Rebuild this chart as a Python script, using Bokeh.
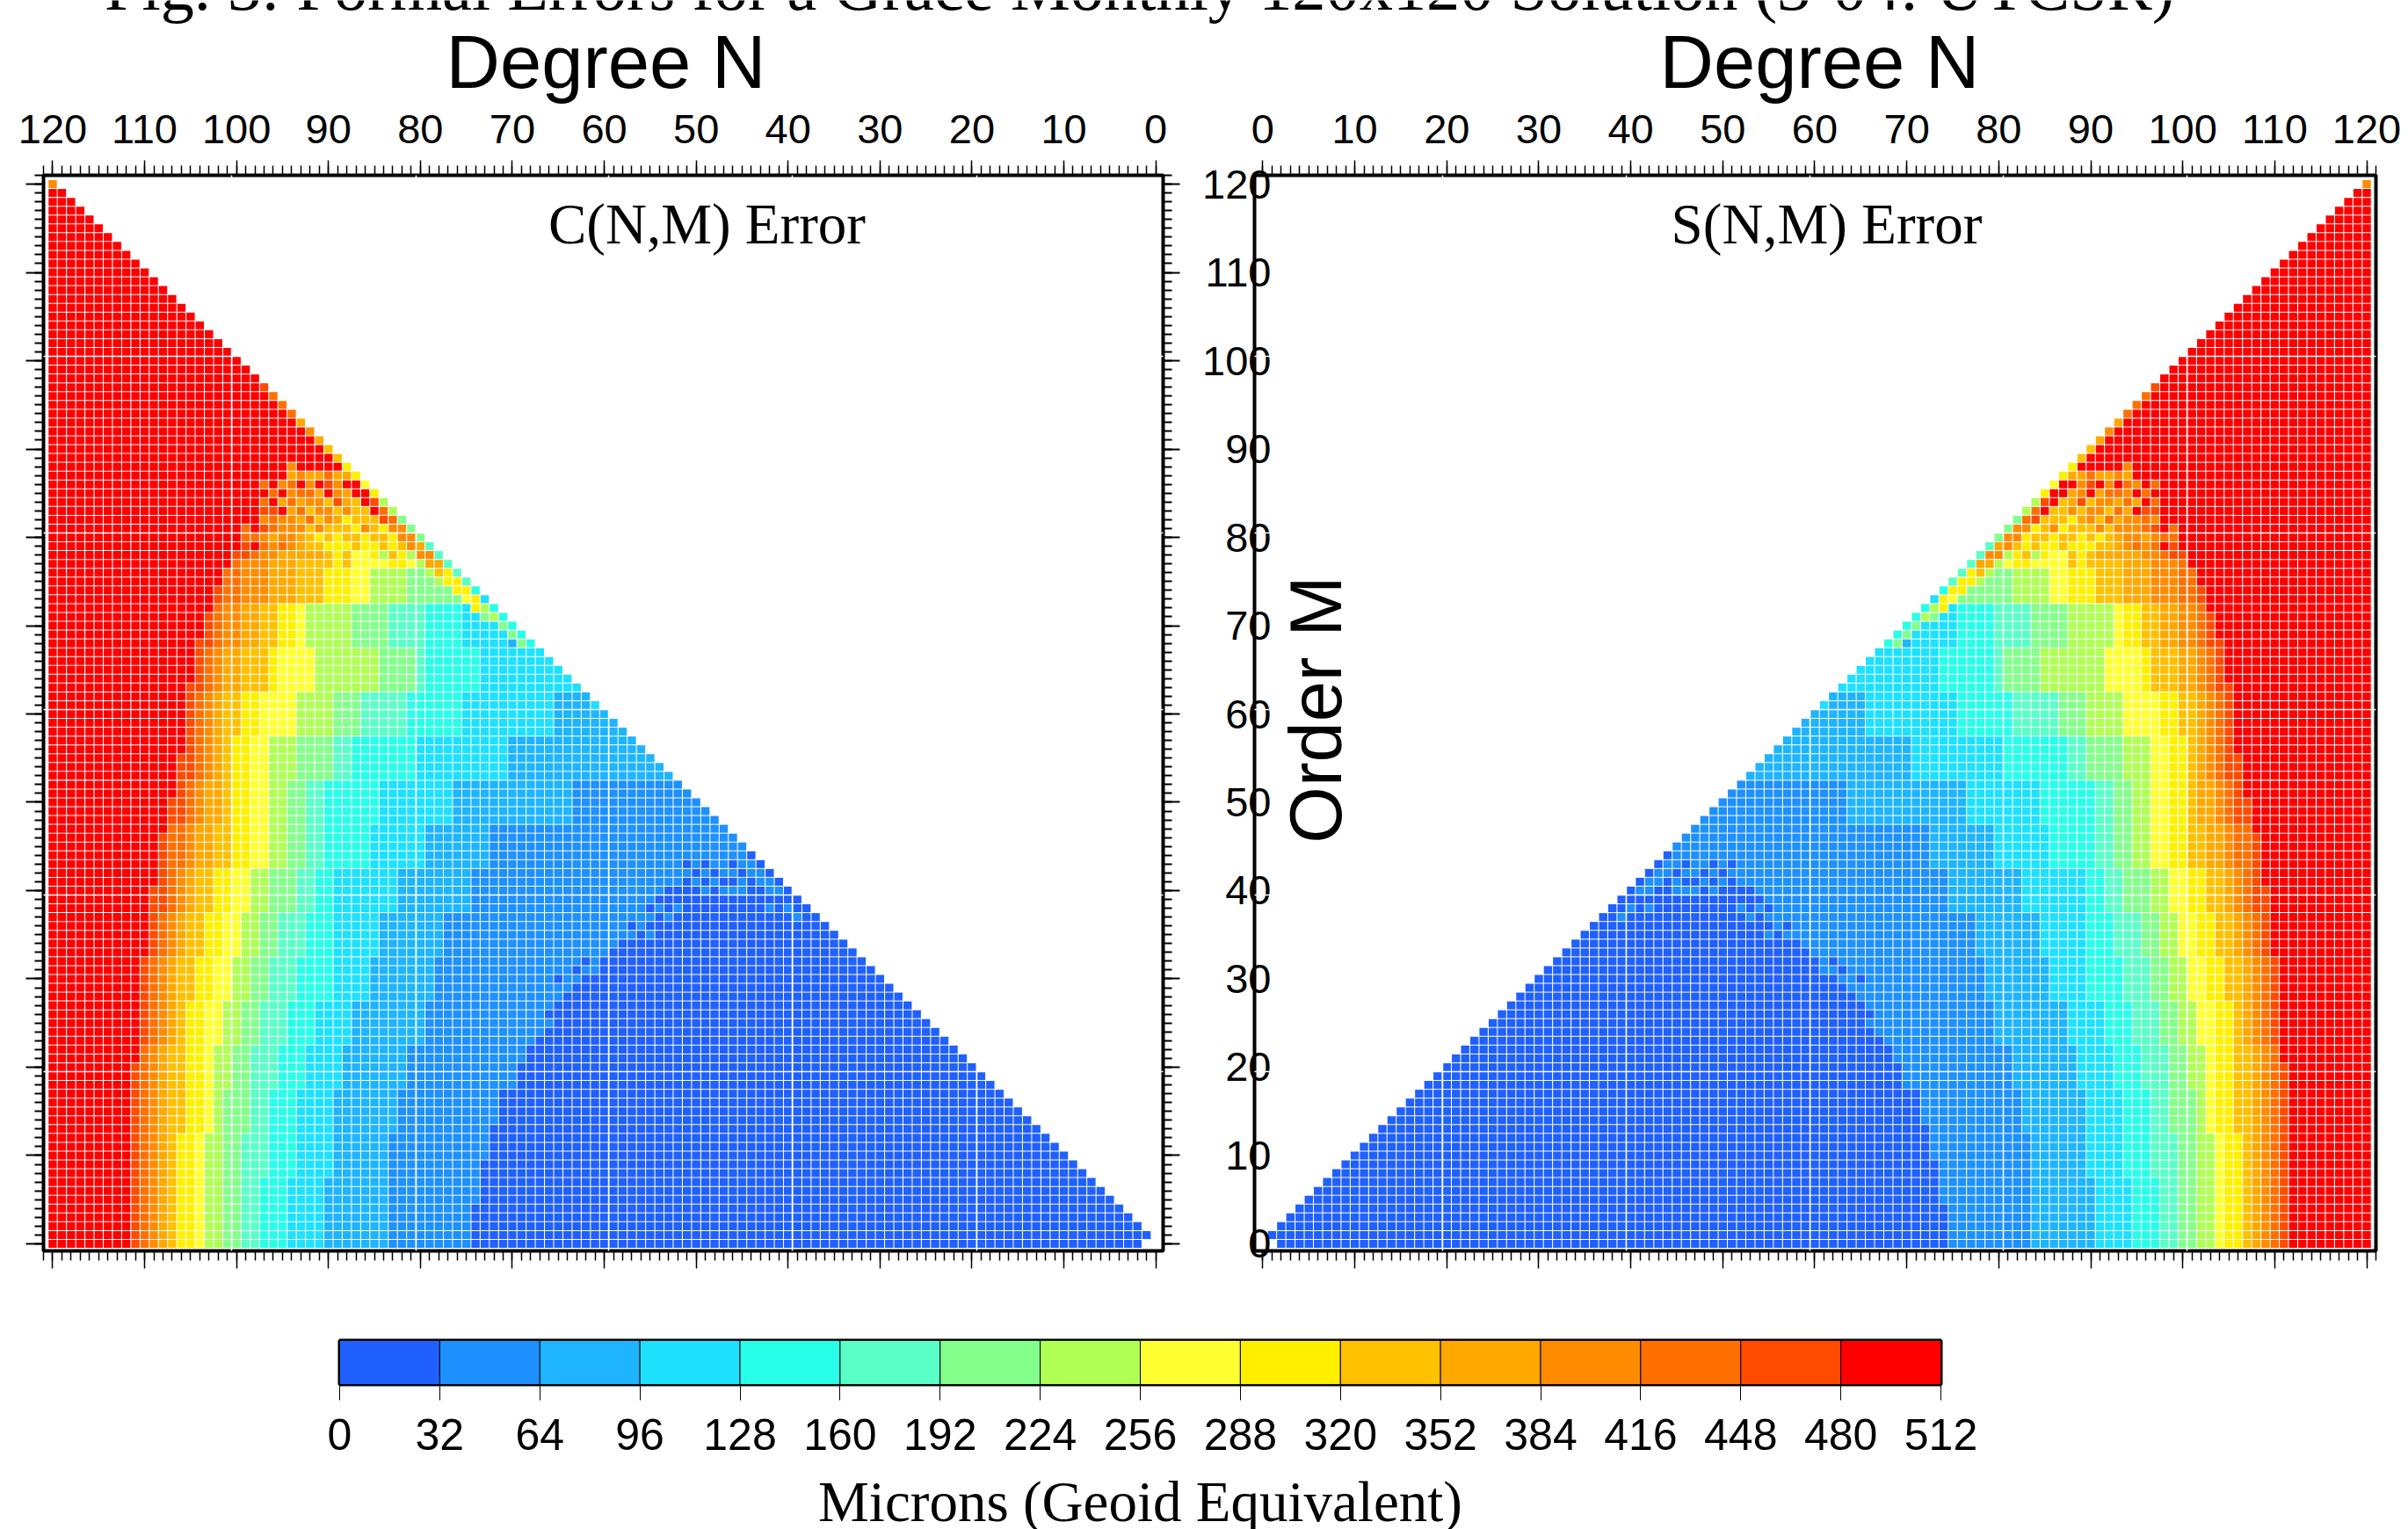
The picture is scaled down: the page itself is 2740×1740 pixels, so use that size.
from bokeh.plotting import figure
from bokeh.layouts import column, row
from bokeh.models import (ColumnDataSource, Range1d, LinearAxis, FixedTicker, Label, Grid, Title)
from bokeh.embed import file_html
from bokeh.resources import INLINE
import math

TITLE = "Fig. 3: Formal Errors for a Grace Monthly 120x120 Solution (3-04: UTCSR)"
PALETTE = ["#2060FF", "#1E90FF", "#1EB4FF", "#1EE1FF", "#28FFE8", "#5AFFC8", "#84FF8C", "#AFFF55",
           "#FFFF32", "#FFF000", "#FFC000", "#FFA800", "#FF8C00", "#FF7000", "#FF4B00", "#FF0000"]
BAR_TICKS = [0, 32, 64, 96, 128, 160, 192, 224, 256, 288, 320, 352, 384, 416, 448, 480, 512]

# Lowest degree in the saturated red band (15), by runs of order
red_orders = [0, 21, 33, 41, 47, 51, 56, 64, 69, 72, 75, 77, 79, 80, 81, 87, 88]
red_floor = [112, 111, 110, 109, 108, 107, 106, 105, 104, 103, 102, 101, 100, 99, 98, 95, 0]

# Lowest degree in band 1 (below it the darkest blue), by runs of order
dark_orders = [0, 5, 10, 14, 18, 21, 23, 24, 25, 26, 27, 28, 29, 30, 31, 33, 34, 35, 36, 37, 38, 39, 40]
dark_floor = [75, 74, 73, 72, 70, 69, 68, 67, 66, 67, 66, 65, 64, 63, 61, 60, 59, 55, 56, 53, 52, 55, 0]

# Lowest degree of bands 14,13,...,2 in runs of order
band_orders = [0, 8, 13, 18, 23, 28, 33, 38, 43, 48, 53, 58, 63, 68, 73, 78, 83, 88]
band_floors = [
    [111, 110, 109, 108, 107, 105, 104, 102, 100, 98, 95, 91, 84],
    [111, 110, 109, 108, 107, 105, 104, 102, 100, 97, 94, 90, 84],
    [111, 110, 109, 108, 106, 104, 103, 102, 99, 97, 94, 90, 83],
    [111, 110, 109, 108, 106, 104, 103, 101, 99, 96, 93, 89, 82],
    [110, 109, 108, 107, 106, 104, 102, 100, 98, 95, 92, 88, 80],
    [110, 109, 108, 107, 105, 103, 101, 99, 97, 94, 90, 86, 79],
    [109, 108, 107, 106, 104, 102, 100, 98, 96, 93, 90, 85, 78],
    [108, 107, 106, 105, 103, 101, 99, 97, 94, 92, 90, 83, 75],
    [108, 106, 105, 103, 101, 99, 97, 95, 93, 91, 86, 80, 73],
    [106, 105, 104, 102, 101, 99, 97, 95, 93, 91, 85, 77, 64],
    [105, 104, 103, 102, 101, 99, 97, 94, 90, 88, 81, 71, 0],
    [105, 104, 103, 102, 100, 98, 94, 90, 87, 82, 76, 66, 0],
    [104, 103, 102, 100, 97, 96, 92, 85, 81, 80, 74, 0, 0],
    [103, 102, 100, 98, 96, 94, 93, 88, 84, 80, 76, 71, 0],
    [102, 100, 97, 94, 91, 88, 86, 82, 76, 0, 0, 0, 0],
    [99, 98, 96, 94, 92, 89, 0, 0, 0, 0, 0, 0, 0],
    [97, 96, 95, 0, 0, 0, 0, 0, 0, 0, 0, 0, 0],
    [0, 0, 0, 0, 0, 0, 0, 0, 0, 0, 0, 0, 0],
]

# Cells next to the diagonal: order, highest degree, bands going down in degree
ridge_rows = [
    (88, 94, [12]), (87, 93, [12]), (87, 90, [13]),
    (86, 97, [13, 15, 12, 13, 15, 12, 15, 14, 12, 15, 15, 8]),
    (85, 97, [15, 13, 15, 12, 13, 13, 11, 15, 12, 11, 15, 15, 9]),
    (84, 97, [13, 15, 11, 13, 11, 12, 12, 10, 14, 11, 10, 15, 14, 7]),
    (83, 96, [14, 15, 11, 13, 10, 12, 12, 10, 12, 10, 10, 15, 13, 7]),
    (82, 96, [13, 12, 12, 11, 13, 10, 12, 11, 9, 10, 10, 10, 14, 13, 6]),
    (81, 99, [13, 15, 14, 13, 12, 12, 12, 10, 12, 10, 10, 10, 9, 12, 10, 9, 12, 12, 6]),
    (80, 99, [13, 13, 12, 11, 12, 12, 11, 10, 9, 10, 9, 10, 10, 9, 10, 10, 9, 12, 12, 6]),
    (79, 98, [15, 13, 12, 13, 12, 11, 10, 10, 9, 9, 9, 10, 9, 9, 10, 9, 10, 12, 11, 5]),
    (78, 94, [11, 11, 11, 11, 10, 9, 10, 8, 8, 9, 7, 10, 9, 7, 12, 12, 5]),
    (77, 90, [10, 9, 10, 8, 8, 8, 8, 9, 9, 8, 7, 11, 11, 5]),
    (76, 79, [7, 10, 9, 5]), (75, 78, [7, 9, 9, 5]), (74, 77, [6, 9, 9, 4]),
    (73, 75, [8, 9, 3]), (72, 74, [9, 7, 4]), (71, 73, [6, 7, 4]),
    (70, 71, [6, 4]), (69, 70, [6, 4]), (68, 69, [6, 4]),
]

# Cells on the diagonal N = M
diagonal_orders = [120, 97, 96, 95, 94, 93, 92, 91, 90, 89, 88, 87, 67, 66, 65, 64, 63, 62, 61, 60]
diagonal_bands = [12, 14, 13, 13, 13, 11, 12, 11, 10, 10, 9, 9, 3, 3, 3, 3, 3, 2, 3, 2]

# Single dark or light cells around the edge of the dark area: order, band, degrees
speck_rows = [
    (44, 0, [44]), (43, 0, [51, 49, 46, 43]), (42, 0, [50, 48, 45, 42]),
    (41, 0, [51, 49, 47, 46, 44, 41]), (40, 0, [53, 52, 51, 50, 48, 44, 43, 40]),
    (38, 0, [55, 53]), (38, 1, [42, 40]), (37, 0, [54]), (37, 1, [39]),
    (36, 0, [57]), (35, 0, [56]), (32, 0, [62]), (31, 0, [63]), (30, 0, [65]),
]


def run_value(orders, values, m):
    out = values[0]
    for start, v in zip(orders, values):
        if m >= start:
            out = v
    return out


cells = {}
for m in range(0, 121):
    for n in range(max(m, 1), 121):
        if m == 0 and n == 1:
            continue
        if n >= run_value(red_orders, red_floor, m):
            b = 15
        else:
            b = None
            for k, floor in enumerate(run_value(band_orders, band_floors, m)):
                if n >= floor:
                    b = 14 - k
                    break
            if b is None:
                b = 1 if n >= run_value(dark_orders, dark_floor, m) else 0
        cells[(n, m)] = b
for m, top, bands in ridge_rows:
    for i, b in enumerate(bands):
        cells[(top - i, m)] = b
for m, b in zip(diagonal_orders, diagonal_bands):
    cells[(m, m)] = b
for m, b, degrees in speck_rows:
    for n in degrees:
        cells[(n, m)] = b

source = ColumnDataSource(dict(
    n=[k[0] for k in cells], m=[k[1] for k in cells], color=[PALETTE[v] for v in cells.values()]))

SERIF = "Liberation Serif"
SANS = "Liberation Sans"
TICKS = FixedTicker(ticks=list(range(0, 121, 10)), minor_ticks=list(range(0, 122)))


def style_axis(ax, labels, major_out, minor_out, width=2):
    ax.ticker = TICKS
    ax.axis_line_color = None
    ax.major_tick_in = 0
    ax.minor_tick_in = 0
    ax.major_tick_out = major_out
    ax.minor_tick_out = minor_out
    ax.major_tick_line_color = "black" if major_out else None
    ax.minor_tick_line_color = "black" if minor_out else None
    ax.major_tick_line_width = width
    ax.minor_tick_line_width = width
    ax.major_label_text_font = SANS
    ax.major_label_text_font_size = "47px"
    ax.major_label_text_color = "black"
    if not labels:
        ax.major_label_overrides = {t: "" for t in range(0, 121, 10)}


def panel(x_range, width, left, right, heading_offset):
    p = figure(width=width, height=1479, x_range=x_range, y_range=Range1d(-0.8, 121),
               x_axis_location="above", y_axis_location="left", toolbar_location=None,
               output_backend="svg", min_border_left=left, min_border_right=right,
               min_border_top=188, min_border_bottom=67, border_fill_color=None)
    p.grid.visible = False
    p.outline_line_color = "black"
    p.outline_line_width = 4
    p.background_fill_color = "white"
    p.rect("n", "m", width=0.9, height=0.9, source=source, fill_color="color", line_color=None)
    p.add_layout(Grid(dimension=0, ticker=FixedTicker(ticks=[19.5, 39.5, 59.5, 80.5, 100.5]),
                      grid_line_color="white", grid_line_width=1.5, level="annotation"))
    p.add_layout(Grid(dimension=1, ticker=FixedTicker(ticks=[19.5, 39.5, 60.5, 80.5, 100.5]),
                      grid_line_color="white", grid_line_width=1.5, level="annotation"))
    top = p.above[0]
    style_axis(top, True, 17, 11, 1.5)
    top.major_label_standoff = 20
    bottom = LinearAxis()
    style_axis(bottom, False, 20, 11, 1.5)
    p.add_layout(bottom, "below")
    p.add_layout(Title(text="Degree N", align="left", offset=heading_offset, standoff=19,
                       text_font=SANS, text_font_size="85px", text_font_style="normal",
                       text_color="black"), "above")
    return p


# ---- left panel: page x = 49 .. 1323, page y = 199 .. 1423
left = panel(Range1d(121, -0.8), 1350, 49, 27, 458)
style_axis(left.left[0], False, 20, 10)
right_ax = LinearAxis()
style_axis(right_ax, False, 19, 10)
left.add_layout(right_ax, "right")

# ---- right panel: page x = 1427 .. 2703
right = panel(Range1d(-0.9, 121), 1388, 77, 35, 461)
style_axis(right.left[0], True, 0, 0)
right.left[0].major_label_standoff = -19


def lx(px):
    return 121 - (px - 49) * 121.8 / 1274


def rx(px):
    return -0.9 + (px - 1427) * 121.9 / 1276


def py(px):
    return 121 - (px - 199) * 121.8 / 1224


left.add_layout(Label(x=lx(804), y=py(254), text="C(N,M) Error", text_font=SERIF, text_font_size="65px",
                      text_color="black", text_align="center", text_baseline="alphabetic"))
right.add_layout(Label(x=rx(2078), y=py(254), text="S(N,M) Error", text_font=SERIF, text_font_size="65px",
                       text_color="black", text_align="center", text_baseline="alphabetic"))
right.add_layout(Label(x=rx(1497), y=py(807), text="Order M", text_font=SANS, text_font_size="83px",
                       text_color="black", angle=math.pi / 2, text_align="center",
                       text_baseline="alphabetic"))

# ---- title strip (the reference is cut at the top of the page)
head = figure(width=2738, height=30, x_range=Range1d(0, 2738), y_range=Range1d(30, 0),
              x_axis_location=None, y_axis_location=None, toolbar_location=None, output_backend="svg",
              min_border_left=0, min_border_right=0, min_border_top=0, min_border_bottom=0,
              outline_line_color=None, margin=(0, 0, -19, 0))
head.grid.visible = False
head.add_layout(Label(x=1296, y=-15, text=TITLE, text_font=SERIF, text_font_size="76.4px",
                      text_color="black", text_align="center", text_baseline="alphabetic"))

# ---- colour bar
bar = figure(width=2738, height=280, x_range=Range1d(0, 512), y_range=Range1d(0, 1),
             x_axis_location="below", y_axis_location=None, toolbar_location=None, output_backend="svg",
             min_border_left=386, min_border_right=530, min_border_top=35, min_border_bottom=195)
bar.grid.visible = False
bar.outline_line_color = "black"
bar.outline_line_width = 4
bar.quad(left=BAR_TICKS[:-1], right=BAR_TICKS[1:], bottom=0, top=1, fill_color=PALETTE,
         line_color="black", line_width=1)
ax = bar.below[0]
ax.ticker = FixedTicker(ticks=BAR_TICKS)
ax.axis_line_color = None
ax.major_tick_in = 0
ax.major_tick_out = 18
ax.minor_tick_line_color = None
ax.major_tick_line_width = 1
ax.major_tick_line_color = "black"
ax.major_label_text_font = SANS
ax.major_label_text_font_size = "50px"
ax.major_label_text_color = "black"
ax.major_label_standoff = 21
ax.axis_label = "Microns (Geoid Equivalent)"
ax.axis_label_text_font = SERIF
ax.axis_label_text_font_style = "normal"
ax.axis_label_text_font_size = "65px"
ax.axis_label_text_color = "black"
ax.axis_label_standoff = 20

page = column(row(head), row(left, right, spacing=0), row(bar), spacing=0)
html = file_html(page, INLINE, title="Formal errors")
open("out.html", "w").write(html.replace("<body>", '<body style="margin:0;overflow:hidden">'))
